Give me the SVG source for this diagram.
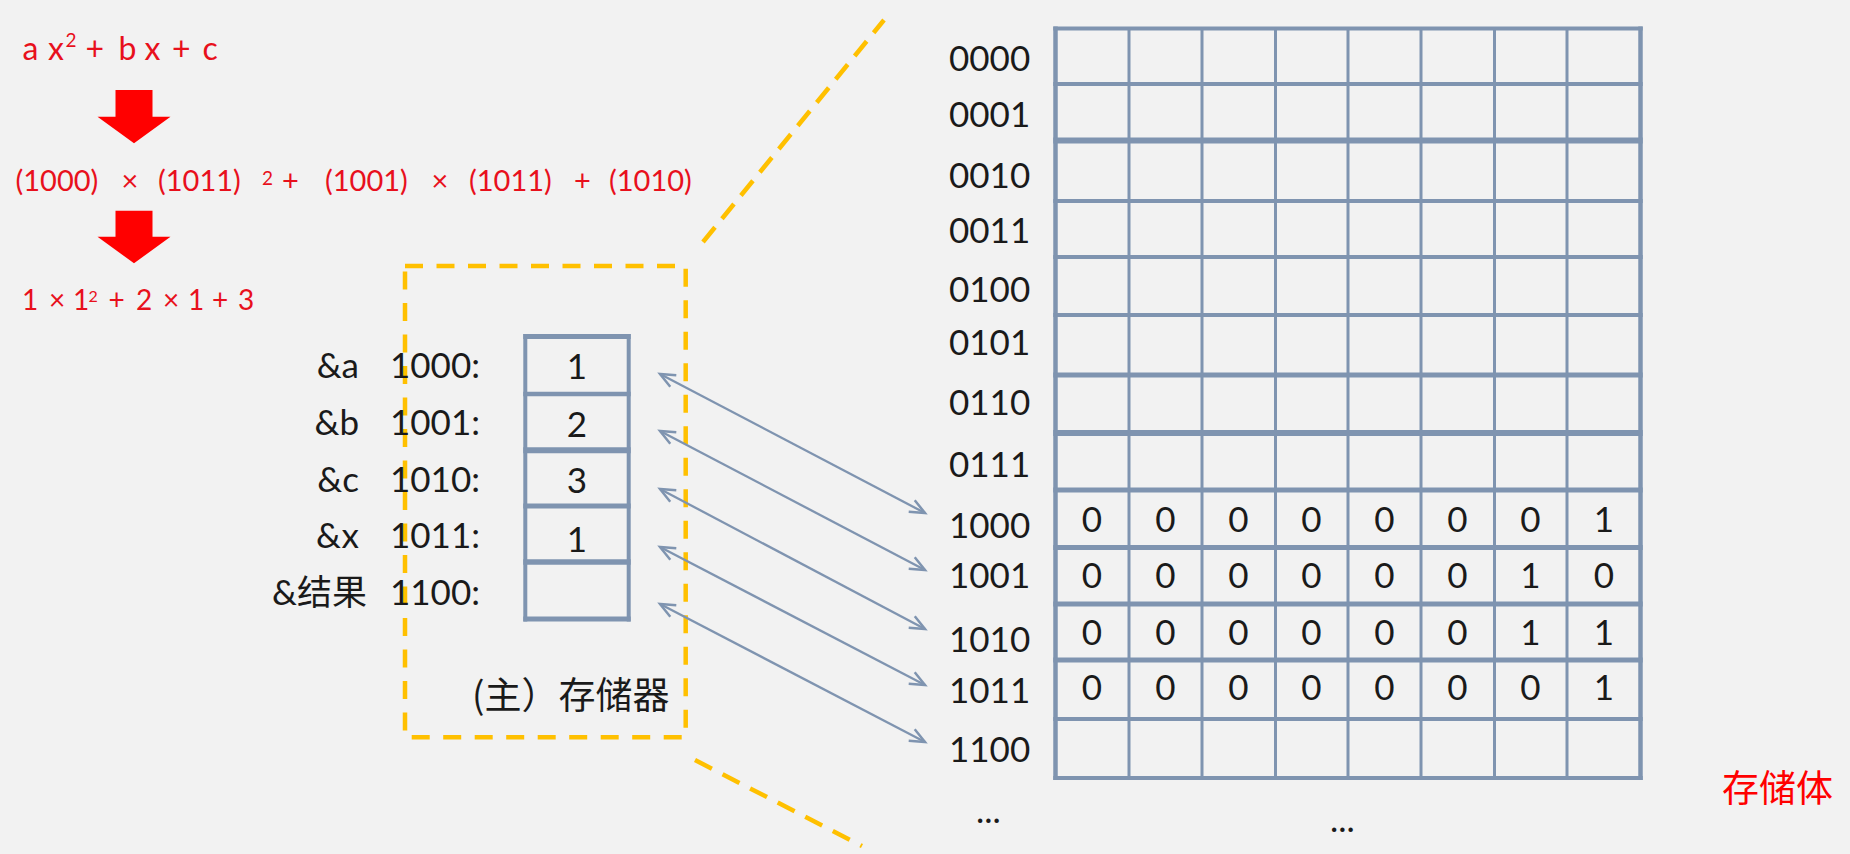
<svg xmlns="http://www.w3.org/2000/svg" width="1850" height="854" viewBox="0 0 1850 854">
<defs>
<style>
.bg{fill:#F2F2F2}
.red{fill:#E8101C;font-family:Lato,"Liberation Sans",sans-serif;font-weight:400}
.blk{fill:#1A1A1A;font-family:Lato,"Liberation Sans","Noto Sans CJK SC",sans-serif;font-weight:400;font-size:35px}
.cjk{fill:#1A1A1A;font-family:"Noto Sans CJK SC",sans-serif;font-size:37px}
.mid{text-anchor:middle}
.end{text-anchor:end}
.grid{stroke:#7F94B0;fill:none}
.dash{stroke:#FFC000;stroke-width:4.5;fill:none;stroke-dasharray:18 13.5}
.link{stroke:#7F94B0;stroke-width:2.3;fill:none;marker-start:url(#open);marker-end:url(#open)}
.blockarrow{fill:#FF0000}
</style>
<marker id="open" markerUnits="userSpaceOnUse" markerWidth="20" markerHeight="20" refX="16" refY="8.5" orient="auto-start-reverse" viewBox="0 0 20 17">
<path d="M1,2 L16,8.5 L1,15" fill="none" stroke="#7F94B0" stroke-width="2.5"/>
</marker>
</defs>
<rect class="bg" x="0" y="0" width="1850" height="854"/>

<g id="formula-1">
<text class="red" font-size="32" y="59.5"><tspan x="22.5">a</tspan><tspan x="48">x</tspan><tspan x="65.5" y="47" font-size="19">2</tspan><tspan x="85.5" y="59.5">+</tspan><tspan x="118.5">b</tspan><tspan x="144.5">x</tspan><tspan x="172">+</tspan><tspan x="202.5">c</tspan></text>
</g>
<g id="arrow-down-1"><polygon class="blockarrow" points="115.5,90 152.5,90 152.5,116.7 170.5,116.7 134,143.3 97.5,116.7 115.5,116.7"/></g>
<g id="formula-2">
<text class="red" font-size="29" y="190.5"><tspan x="15.5">(1000)</tspan><tspan x="121.5">×</tspan><tspan x="158">(1011)</tspan><tspan x="262" y="185" font-size="19">2</tspan><tspan x="282" y="190.5">+</tspan><tspan x="325">(1001)</tspan><tspan x="431.5">×</tspan><tspan x="469">(1011)</tspan><tspan x="574">+</tspan><tspan x="609">(1010)</tspan></text>
</g>
<g id="arrow-down-2"><polygon class="blockarrow" points="115.5,210.7 152.5,210.7 152.5,236.7 170.5,236.7 134,263.3 97.5,236.7 115.5,236.7"/></g>
<g id="formula-3">
<text class="red" font-size="28" y="310"><tspan x="22">1</tspan><tspan x="49">×</tspan><tspan x="73">1</tspan><tspan x="88.5" y="301.7" font-size="16">2</tspan><tspan x="108.5" y="310">+</tspan><tspan x="136">2</tspan><tspan x="163">×</tspan><tspan x="188">1</tspan><tspan x="212">+</tspan><tspan x="238">3</tspan></text>
</g>

<g id="main-memory">
<rect class="dash" x="405" y="266" width="280.7" height="471.3"/>
<text class="cjk" x="472" y="709">(主）存储器</text>
</g>

<g id="zoom-lines">
<line class="dash" x1="703" y1="242" x2="884" y2="20" style="stroke-dasharray:19 11"/>
<line class="dash" x1="695" y1="760" x2="862" y2="846" style="stroke-dasharray:19 12"/>
</g>

<g id="memory-column">
<g class="grid">
<line x1="525.3" y1="334" x2="525.3" y2="621.5" stroke-width="4"/>
<line x1="628.7" y1="334" x2="628.7" y2="621.5" stroke-width="4"/>
<line x1="523.3" y1="336.5" x2="630.7" y2="336.5" stroke-width="5"/>
<line x1="523.3" y1="394" x2="630.7" y2="394" stroke-width="4.5"/>
<line x1="523.3" y1="450.3" x2="630.7" y2="450.3" stroke-width="6"/>
<line x1="523.3" y1="506" x2="630.7" y2="506" stroke-width="5"/>
<line x1="523.3" y1="562" x2="630.7" y2="562" stroke-width="5.5"/>
<line x1="523.3" y1="619" x2="630.7" y2="619" stroke-width="5"/>
</g>
<text class="blk mid" font-size="36" x="577" y="379">1</text>
<text class="blk mid" font-size="36" x="577" y="436.7">2</text>
<text class="blk mid" font-size="36" x="577" y="493">3</text>
<text class="blk mid" font-size="36" x="577" y="551.7">1</text>
</g>

<g id="variable-labels">
<text class="blk end" x="359" y="378.3">&amp;a</text>
<text class="blk" x="390" y="378.3">1000:</text>
<text class="blk end" x="359" y="435">&amp;b</text>
<text class="blk" x="390" y="435">1001:</text>
<text class="blk end" x="359" y="491.7">&amp;c</text>
<text class="blk" x="390" y="491.7">1010:</text>
<text class="blk end" x="359" y="548.3">&amp;x</text>
<text class="blk" x="390" y="548.3">1011:</text>
<text class="blk end" x="367" y="605">&amp;结果</text>
<text class="blk" x="390" y="605">1100:</text>
</g>

<g id="storage-grid">
<g class="grid">
<line x1="1055.5" y1="26.5" x2="1055.5" y2="780" stroke-width="4.5"/>
<line x1="1129" y1="28.5" x2="1129" y2="778" stroke-width="3"/>
<line x1="1202" y1="28.5" x2="1202" y2="778" stroke-width="3"/>
<line x1="1275.5" y1="28.5" x2="1275.5" y2="778" stroke-width="3"/>
<line x1="1348" y1="28.5" x2="1348" y2="778" stroke-width="3"/>
<line x1="1421" y1="28.5" x2="1421" y2="778" stroke-width="3"/>
<line x1="1494.5" y1="28.5" x2="1494.5" y2="778" stroke-width="3"/>
<line x1="1567" y1="28.5" x2="1567" y2="778" stroke-width="3"/>
<line x1="1640.5" y1="26.5" x2="1640.5" y2="780" stroke-width="4.5"/>
<line x1="1053.3" y1="28.5" x2="1642.7" y2="28.5" stroke-width="4"/>
<line x1="1053.3" y1="84" x2="1642.7" y2="84" stroke-width="4"/>
<line x1="1053.3" y1="140.5" x2="1642.7" y2="140.5" stroke-width="6"/>
<line x1="1053.3" y1="201" x2="1642.7" y2="201" stroke-width="4"/>
<line x1="1053.3" y1="257" x2="1642.7" y2="257" stroke-width="4"/>
<line x1="1053.3" y1="315" x2="1642.7" y2="315" stroke-width="4"/>
<line x1="1053.3" y1="375" x2="1642.7" y2="375" stroke-width="5"/>
<line x1="1053.3" y1="433" x2="1642.7" y2="433" stroke-width="6"/>
<line x1="1053.3" y1="490" x2="1642.7" y2="490" stroke-width="5"/>
<line x1="1053.3" y1="547.5" x2="1642.7" y2="547.5" stroke-width="5"/>
<line x1="1053.3" y1="604" x2="1642.7" y2="604" stroke-width="5"/>
<line x1="1053.3" y1="660" x2="1642.7" y2="660" stroke-width="5"/>
<line x1="1053.3" y1="719" x2="1642.7" y2="719" stroke-width="4"/>
<line x1="1053.3" y1="778" x2="1642.7" y2="778" stroke-width="4"/>
</g>
<g id="address-labels">
<text class="blk" x="949" y="70.7">0000</text>
<text class="blk" x="949" y="126.7">0001</text>
<text class="blk" x="949" y="188.3">0010</text>
<text class="blk" x="949" y="243.3">0011</text>
<text class="blk" x="949" y="301.7">0100</text>
<text class="blk" x="949" y="355">0101</text>
<text class="blk" x="949" y="415">0110</text>
<text class="blk" x="949" y="476.7">0111</text>
<text class="blk" x="949" y="538.3">1000</text>
<text class="blk" x="949" y="588.3">1001</text>
<text class="blk" x="949" y="651.7">1010</text>
<text class="blk" x="949" y="703.3">1011</text>
<text class="blk" x="949" y="761.7">1100</text>
<text class="blk" x="976" y="823">...</text>
</g>
<g id="cell-bits">
<text class="blk mid" y="531.7"><tspan x="1092">0</tspan><tspan x="1165.5">0</tspan><tspan x="1238.5">0</tspan><tspan x="1311.5">0</tspan><tspan x="1384.5">0</tspan><tspan x="1457.5">0</tspan><tspan x="1530.5">0</tspan><tspan x="1604">1</tspan></text>
<text class="blk mid" y="588.3"><tspan x="1092">0</tspan><tspan x="1165.5">0</tspan><tspan x="1238.5">0</tspan><tspan x="1311.5">0</tspan><tspan x="1384.5">0</tspan><tspan x="1457.5">0</tspan><tspan x="1530.5">1</tspan><tspan x="1604">0</tspan></text>
<text class="blk mid" y="645"><tspan x="1092">0</tspan><tspan x="1165.5">0</tspan><tspan x="1238.5">0</tspan><tspan x="1311.5">0</tspan><tspan x="1384.5">0</tspan><tspan x="1457.5">0</tspan><tspan x="1530.5">1</tspan><tspan x="1604">1</tspan></text>
<text class="blk mid" y="700"><tspan x="1092">0</tspan><tspan x="1165.5">0</tspan><tspan x="1238.5">0</tspan><tspan x="1311.5">0</tspan><tspan x="1384.5">0</tspan><tspan x="1457.5">0</tspan><tspan x="1530.5">0</tspan><tspan x="1604">1</tspan></text>
</g>
<text class="blk" x="1330" y="832">...</text>
<text class="cjk" x="1722" y="802" style="fill:#FF0000">存储体</text>
</g>

<g id="connectors">
<line class="link" x1="660" y1="374" x2="925" y2="513"/>
<line class="link" x1="660" y1="431" x2="925" y2="570"/>
<line class="link" x1="660" y1="489" x2="925" y2="629"/>
<line class="link" x1="660" y1="547" x2="925" y2="685"/>
<line class="link" x1="660" y1="604" x2="925" y2="742"/>
</g>
</svg>
